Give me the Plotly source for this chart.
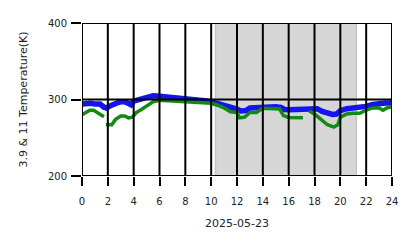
import plotly.graph_objects as go

# ---- data ----
blue_hours = [0, 0.3, 0.7, 1.0, 1.4, 1.7, 1.9, 2.2, 2.5, 2.8, 3.0, 3.3, 3.6, 3.8, 4.0, 4.4, 4.8,
              5.2, 5.5, 5.8, 6.2, 6.6, 7.0, 7.5, 8.0, 8.5, 9.0, 9.5, 10.0, 10.5, 11.0, 11.5, 12.0,
              12.3, 12.7, 13.0, 13.5, 14.0, 14.5, 15.0, 15.4, 15.7, 16.0, 16.5, 17.0, 17.4, 17.8,
              18.2, 18.6, 19.0, 19.4, 19.7, 20.0, 20.5, 21.0, 21.5, 22.0, 22.5, 23.0, 23.5, 24.0]
blue_temp = [294, 295, 295, 294, 294, 290, 289, 292, 295, 296, 297, 297, 295, 293, 298, 300, 302,
             303, 305, 304.5, 304, 303, 302, 301, 300.5, 299.5, 299, 298.5, 297, 295, 292.5, 289.5, 287.5,
             285, 285.5, 289, 289.5, 290.5, 291, 290.5, 289.5, 287, 286.5, 287, 287.5, 288.5, 289,
             288, 284.5, 282, 280.5, 281, 285.5, 288, 289, 289.5, 291, 293.5, 295, 295.5, 295.5]

green_hours = [0, 0.3, 0.6, 0.9, 1.2, 1.5, 1.7, 1.8, 1.85, 2.3, 2.6, 3.0, 3.3, 3.6, 3.9, 4.2, 4.6,
               5.0, 5.5, 6.0, 7.0, 8.0, 9.0, 10.0, 10.5, 11.0, 11.5, 12.0, 12.2, 12.6, 13.0, 13.5,
               14.0, 15.0, 15.3, 15.6, 16.0, 17.1, 17.3, 17.6, 18.0, 18.5, 19.0, 19.5, 19.8, 20.0,
               20.5, 21.0, 21.5, 22.0, 22.5, 23.0, 23.3, 23.6, 24.0]
green_temp = [280, 283, 286, 286, 283, 279, 277.5, None, 267, 267, 274, 278.5, 278.5, 276, 277, 283, 287,
              292, 297, 299, 298.5, 297, 296, 295, 292.5, 289, 284, 283, 276, 277, 283, 283,
              288.5, 288.5, 287.5, 279, 276.5, 276, None, 285, 281, 274, 267, 264, 267, 277,
              281, 282, 282, 286, 289, 289, 286, 289, 290.5]

night_start, night_end = 10.33, 21.24
x_ticks = list(range(0, 25, 2))
y_ticks = [200, 300, 400]
x_title = "2025-05-23"
y_title = "3.9 & 11 Temperature(K)"

# ---- figure ----
fig = go.Figure()
fig.add_trace(go.Scatter(x=blue_hours, y=blue_temp, mode="lines",
                         line=dict(color="#1414f0", width=5.5), connectgaps=False))
fig.add_trace(go.Scatter(x=green_hours, y=green_temp, mode="lines",
                         line=dict(color="#138a13", width=3.5), connectgaps=False))

shapes = [dict(type="rect", xref="x", yref="y", x0=night_start, x1=night_end,
               y0=y_ticks[0], y1=y_ticks[-1], fillcolor="#d6d6d6",
               line=dict(color="#c4c4c4", width=1.5), layer="below")]
for t in x_ticks:
    shapes.append(dict(type="line", xref="x", yref="y", x0=t, x1=t, y0=y_ticks[0], y1=y_ticks[-1],
                       line=dict(color="black", width=2), layer="above"))
for t in y_ticks:
    shapes.append(dict(type="line", xref="x", yref="y", x0=x_ticks[0], x1=x_ticks[-1], y0=t, y1=t,
                       line=dict(color="black", width=2), layer="above"))

font = dict(family="DejaVu Sans", size=10, color="#222222")
fig.update_layout(
    width=418, height=248,
    margin=dict(l=82, r=26, t=23, b=72),
    paper_bgcolor="white", plot_bgcolor="white",
    showlegend=False,
    shapes=shapes,
    font=font,
    xaxis=dict(range=[0, 24], tickvals=x_ticks, ticktext=[str(t) for t in x_ticks],
               showgrid=False, zeroline=False, showline=False,
               ticks="outside", ticklen=9, tickwidth=2, tickcolor="black",
               tickfont=dict(size=10), ticklabelstandoff=7,
               title=dict(text=x_title, font=dict(size=11), standoff=13)),
    yaxis=dict(range=[200, 400], tickvals=y_ticks, ticktext=[str(t) for t in y_ticks],
               showgrid=False, zeroline=False, showline=False,
               ticks="outside", ticklen=10, tickwidth=2, tickcolor="black",
               tickfont=dict(size=10), ticklabelstandoff=2,
               title=dict(text=y_title, font=dict(size=11), standoff=18)),
)
fig.write_html("out.html")
